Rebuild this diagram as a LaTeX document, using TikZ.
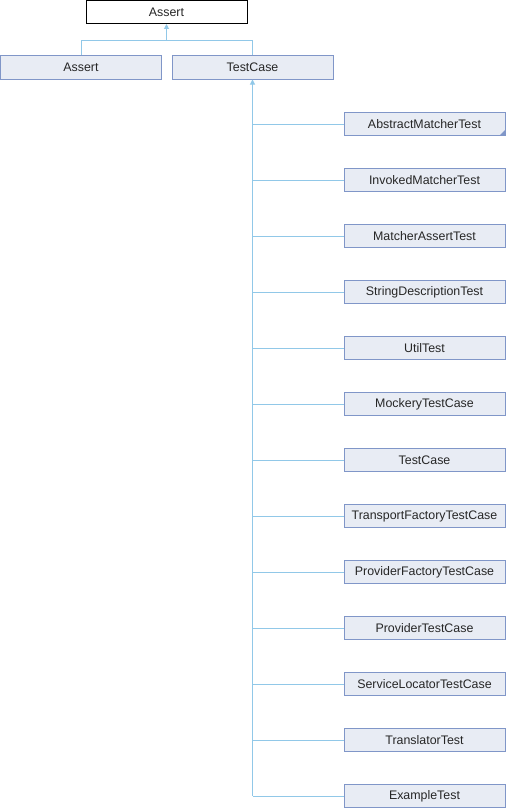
\documentclass[tikz,border=0pt]{standalone}
\usepackage{fontspec}
\setmainfont{Liberation Sans}
\usetikzlibrary{arrows.meta}
\definecolor{boxfill}{RGB}{232,236,244}
\definecolor{boxline}{RGB}{128,150,200}
\definecolor{edgecol}{RGB}{145,200,232}
\begin{document}
\begin{tikzpicture}[x=1pt,y=-1pt,
  cls/.style={draw=boxline, fill=boxfill, line width=1pt, minimum width=161pt, minimum height=23pt, inner sep=0pt, font=\fontsize{12.4}{14}\selectfont, text=black!85},
  topcls/.style={cls, draw=black, fill=white},
  edge/.style={draw=edgecol, line width=1pt},
  inh/.style={edge, {Triangle[length=5pt,width=5pt,fill=edgecol]}-}]
\useasboundingbox (0,0) rectangle (506,808);
\node[topcls] (root) at (166.5,12) {Assert};
\node[cls] (a2) at (81,67.5) {Assert};
\node[cls] (tc) at (252.5,67.5) {TestCase};
\coordinate (j) at (166.5,40.5);
\draw[inh] (root.south) -- (j);
\draw[edge] (a2.north) |- (j) -| (tc.north);
\foreach \n/\t [count=\i from 0] in {c0/AbstractMatcherTest,c1/InvokedMatcherTest,c2/MatcherAssertTest,c3/StringDescriptionTest,c4/UtilTest,c5/MockeryTestCase,c6/TestCase,c7/TransportFactoryTestCase,c8/ProviderFactoryTestCase,c9/ProviderTestCase,c10/ServiceLocatorTestCase,c11/TranslatorTest,c12/ExampleTest}{
  \node[cls] (\n) at (424.5,124+56*\i) {\t};
  \coordinate (t\i) at (tc.south |- \n.west);
  \draw[edge] (t\i) -- (\n.west);
}
\draw[inh] (tc.south) -- (t12);
\fill[boxline] (c0.south east) ++(-0.5,-0.5) -- ++(0,-5.5) -- ++(-5.5,5.5) -- cycle;
\end{tikzpicture}
\end{document}
